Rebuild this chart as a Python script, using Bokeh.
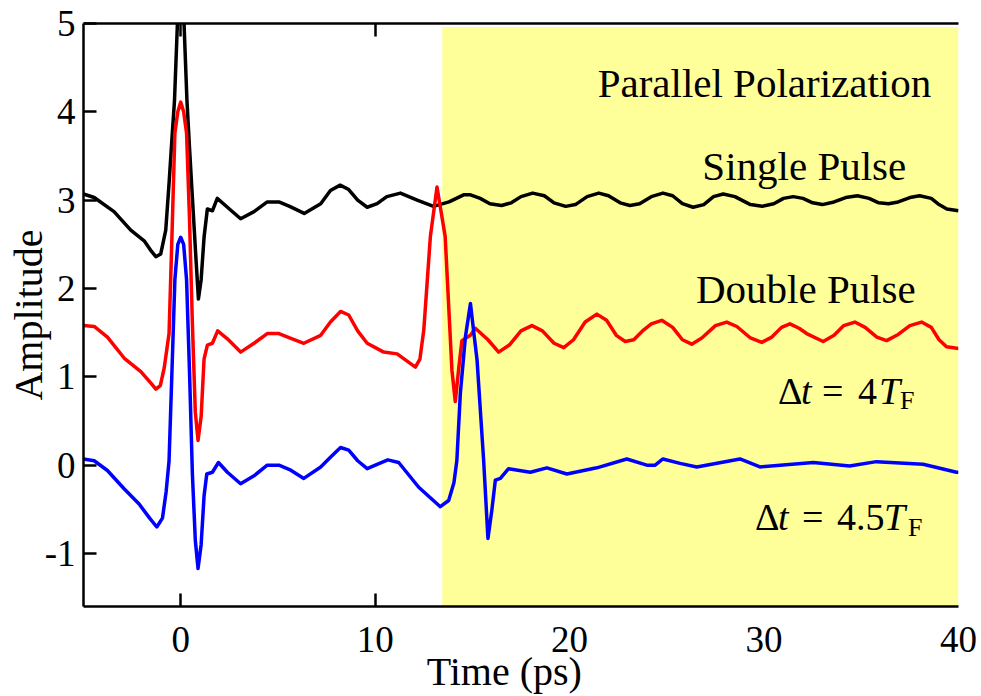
from bokeh.plotting import figure
from bokeh.models import LinearAxis, FixedTicker, Label, Range1d
from bokeh.core.properties import value
from bokeh.embed import file_html
from bokeh.resources import INLINE

# ---------------- data ----------------
x_ticks = [0, 10, 20, 30, 40]
x_inner_ticks = [0, 10]          # inward tick marks visible outside the shaded window
y_ticks = [-1, 0, 1, 2, 3, 4, 5]

# Single pulse (black, offset +3)
t_single = [-5, -4.45, -3.43, -2.57, -1.88, -1.5, -1.28, -1.03, -0.77, -0.6, -0.45, -0.32, -0.17, 0,
            0.17, 0.32, 0.45, 0.6, 0.77, 0.91, 1.05, 1.2, 1.37, 1.63, 1.88, 2.4, 3.08, 3.77, 4.45,
            5.05, 5.6, 6.35, 7.2, 7.7, 8.2, 8.64, 9.1, 9.59, 10.1, 10.6, 11.3, 12.16, 13.0, 13.8,
            14.55, 14.9, 15.4, 15.9, 16.5, 17.0, 17.5, 18.1, 18.7, 19.2, 19.8, 20.3, 20.9, 21.5,
            22.0, 22.6, 23.1, 23.6, 24.2, 24.8, 25.3, 25.8, 26.35, 26.9, 27.4, 27.9, 28.5, 29.3,
            29.9, 30.5, 31.0, 31.5, 32.0, 32.5, 33.0, 33.6, 34.2, 34.8, 35.4, 35.9, 36.4, 36.9,
            37.5, 38.0, 38.6, 39.0, 39.4, 40]
a_single = [3.07, 3.03, 2.87, 2.66, 2.54, 2.42, 2.36, 2.39, 2.66, 3.19, 3.7, 4.13, 5.0, 5.6,
            5.0, 4.13, 3.6, 3.03, 2.39, 1.88, 2.1, 2.58, 2.9, 2.88, 3.02, 2.92, 2.79, 2.87, 2.98,
            2.98, 2.93, 2.85, 2.96, 3.11, 3.17, 3.12, 3.0, 2.92, 2.96, 3.04, 3.08, 3.0, 2.93, 2.98,
            3.06, 3.06, 3.02, 2.96, 2.94, 2.97, 3.04, 3.08, 3.05, 2.97, 2.93, 2.95, 3.04, 3.08,
            3.05, 2.97, 2.94, 2.96, 3.04, 3.08, 3.05, 2.96, 2.92, 2.95, 3.04, 3.07, 3.04, 2.95,
            2.93, 2.96, 3.02, 3.04, 3.02, 2.97, 2.95, 2.98, 3.03, 3.05, 3.02, 2.97, 2.96, 2.98,
            3.03, 3.05, 3.02, 2.95, 2.90, 2.88]

# Double pulse, dt = 4 T_F (red, offset +1.5)
t_dp4 = [-5, -4.45, -3.77, -2.9, -2.05, -1.5, -1.28, -1.05, -0.85, -0.6, -0.45, -0.3, -0.15, 0,
         0.15, 0.3, 0.45, 0.6, 0.75, 0.89, 1.05, 1.2, 1.37, 1.63, 1.9, 2.4, 3.08, 3.77, 4.45,
         5.05, 5.6, 6.33, 7.2, 7.7, 8.22, 8.64, 9.1, 9.59, 10.44, 11.13, 11.5, 12.07, 12.3, 12.5,
         12.84, 13.18, 13.6, 13.95, 14.12, 14.3, 14.46, 14.9, 15.15, 15.8, 16.35, 16.9, 17.5,
         18.06, 18.6, 19.2, 19.7, 20.2, 20.8, 21.4, 21.9, 22.4, 22.86, 23.3, 23.8, 24.2, 24.74,
         25.3, 25.8, 26.28, 26.8, 27.5, 28.08, 28.6, 29.3, 29.88, 30.4, 30.9, 31.33, 31.8, 32.19,
         33.04, 33.6, 34.1, 34.67, 35.2, 35.8, 36.3, 36.9, 37.5, 38.1, 38.6, 39.0, 39.38, 40]
a_dp4 = [1.58, 1.57, 1.45, 1.21, 1.06, 0.92, 0.86, 0.9, 1.1, 1.49, 2.6, 3.76, 4.0, 4.11,
         4.0, 3.76, 2.8, 1.6, 0.6, 0.28, 0.55, 1.2, 1.36, 1.38, 1.52, 1.43, 1.28, 1.38, 1.49,
         1.49, 1.44, 1.38, 1.47, 1.62, 1.74, 1.70, 1.52, 1.38, 1.28, 1.26, 1.2, 1.11, 1.2, 1.53,
         2.59, 3.15, 2.59, 1.07, 0.72, 1.1, 1.41, 1.47, 1.55, 1.42, 1.28, 1.36, 1.52,
         1.58, 1.52, 1.38, 1.33, 1.42, 1.62, 1.71, 1.64, 1.47, 1.40, 1.42, 1.53, 1.60, 1.64,
         1.56, 1.42, 1.37, 1.44, 1.58, 1.62, 1.57, 1.44, 1.39, 1.45, 1.56, 1.60, 1.55, 1.49,
         1.40, 1.47, 1.58, 1.62, 1.56, 1.45, 1.41, 1.48, 1.58, 1.62, 1.56, 1.42, 1.34, 1.32]

# Double pulse, dt = 4.5 T_F (blue, offset 0)
t_dp45 = [-5, -4.45, -3.77, -2.9, -2.14, -1.6, -1.23, -0.94, -0.75, -0.6, -0.46, -0.3, -0.15, 0,
          0.15, 0.3, 0.46, 0.6, 0.75, 0.89, 1.05, 1.2, 1.34, 1.63, 1.94, 2.4, 3.08, 3.77, 4.45,
          5.05, 5.6, 6.33, 7.2, 7.7, 8.22, 8.64, 9.1, 9.59, 10.1, 10.65, 11.21, 12.24, 13.35, 13.78,
          14.05, 14.2, 14.38, 14.64, 14.9, 15.1, 15.24, 15.58, 15.8, 16.0, 16.18, 16.44, 16.86,
          17.98, 18.83, 19.86, 21.4, 22.94, 23.97, 24.4, 24.8, 25.68, 26.54, 28.76, 29.79, 32.53,
          34.4, 35.78, 38.18, 39.9, 40]
a_dp45 = [0.07, 0.05, -0.06, -0.27, -0.44, -0.6, -0.70, -0.60, -0.3, 0.05, 1.0, 2.1, 2.5, 2.58,
          2.5, 2.1, 1.0, -0.1, -0.85, -1.17, -0.9, -0.35, -0.10, -0.08, 0.03, -0.08, -0.21, -0.12, 0.0,
          0.0, -0.05, -0.15, -0.02, 0.09, 0.20, 0.17, 0.05, -0.04, 0.01, 0.06, 0.03, -0.25, -0.47,
          -0.40, -0.2, 0.05, 0.81, 1.45, 1.83, 1.45, 1.19, 0.05, -0.83, -0.51, -0.17, -0.15, -0.04,
          -0.08, -0.03, -0.10, -0.03, 0.07, 0.0, 0.0, 0.07, 0.02, -0.02, 0.07, -0.02, 0.03,
          -0.01, 0.04, 0.01, -0.08, -0.08]

shade_start, shade_end = 13.45, 40      # shaded (yellow) time window, ps
shade_bottom, shade_top = -1.6, 4.96

# ---------------- figure ----------------
SERIF = "Liberation Serif"

p = figure(width=981, height=696, x_range=Range1d(-5, 40), y_range=Range1d(-1.6, 5),
           output_backend="svg", toolbar_location=None,
           min_border_left=83, min_border_right=23, min_border_top=23, min_border_bottom=90)
p.outline_line_color = None
p.xgrid.visible = False
p.ygrid.visible = False
p.background_fill_color = "white"
p.border_fill_color = "white"

bottom_axis = p.below[0]
left_axis = p.left[0]
top_axis = LinearAxis()
p.add_layout(top_axis, "above")

for ax in [bottom_axis, left_axis, top_axis]:
    ax.axis_line_width = 2.5
    ax.axis_line_color = "black"
    ax.major_tick_line_width = 2.5
    ax.major_tick_line_color = "black"
    ax.major_tick_in = 13
    ax.major_tick_out = 0
    ax.minor_tick_line_color = None
    ax.major_label_text_font = SERIF
    ax.major_label_text_font_size = "37px"
    ax.major_label_text_color = "black"
    ax.axis_label_text_font = SERIF
    ax.axis_label_text_font_size = "40px"
    ax.axis_label_text_font_style = "normal"
    ax.axis_label_text_color = "black"

# bottom axis: labels at every major tick, inward tick marks only where not shaded
bottom_axis.ticker = FixedTicker(ticks=x_ticks, minor_ticks=x_inner_ticks)
bottom_axis.major_tick_line_color = None
bottom_axis.minor_tick_line_color = "black"
bottom_axis.minor_tick_line_width = 2.5
bottom_axis.minor_tick_in = 13
bottom_axis.minor_tick_out = 0
bottom_axis.major_label_standoff = 20

# top frame line: no labels, inward tick marks only
top_axis.ticker = FixedTicker(ticks=[], minor_ticks=x_inner_ticks)
top_axis.minor_tick_line_color = "black"
top_axis.minor_tick_line_width = 2.5
top_axis.minor_tick_in = 13
top_axis.minor_tick_out = 0

left_axis.ticker = FixedTicker(ticks=y_ticks)
left_axis.major_label_overrides = {-1: "-1"}
left_axis.axis_label = "Amplitude"
left_axis.major_label_standoff = 8
left_axis.axis_label_standoff = -9

# shaded window, drawn under the curves
p.quad(left=[shade_start], right=[shade_end], bottom=[shade_bottom], top=[shade_top],
       fill_color="#ffff99", line_color=None)

p.line(t_single, a_single, line_color="black", line_width=3.5, line_join="round")
p.line(t_dp4, a_dp4, line_color="#ff0000", line_width=3.5, line_join="round")
p.line(t_dp45, a_dp45, line_color="#0000ff", line_width=3.5, line_join="round")

# x-axis title, drawn as unclipped text so that it may sit close to the bottom edge, as in the original
x_title_pos = 16.64
p.text(x=[x_title_pos], y=[-1.6], text=["Time (ps)"], text_align="center",
       text_baseline="alphabetic", y_offset=65, level="overlay",
       text_font=value(SERIF), text_font_size=value("40px"), text_color="black")


def lab(x, y, text, size="41px", style="normal", align="center", xo=0, yo=0):
    p.add_layout(Label(x=x, y=y, text=text, text_align=align, text_baseline="alphabetic",
                       text_font=SERIF, text_font_size=size, text_font_style=style,
                       text_color="black", x_offset=xo, y_offset=yo))


lab(30.02, 4.33, "Parallel Polarization")
lab(32.07, 3.39, "Single Pulse")
lab(32.15, 2.0, "Double Pulse")

# Delta t = 4 T_F
fx, fy = 30.72, 0.838
lab(fx, fy, "\u0394", size="38px", align="left")
lab(fx, fy, "t", size="38px", style="italic", align="left", xo=23)
lab(fx, fy, "=", size="38px", align="left", xo=44)
lab(fx, fy, "4", size="38px", align="left", xo=80)
lab(fx, fy, "T", size="38px", style="italic", align="left", xo=101)
lab(fx, fy, "F", size="26px", align="left", xo=122, yo=-9)

# Delta t = 4.5 T_F
gx, gy = 29.53, -0.589
lab(gx, gy, "\u0394", size="38px", align="left")
lab(gx, gy, "t", size="38px", style="italic", align="left", xo=23)
lab(gx, gy, "=", size="38px", align="left", xo=47)
lab(gx, gy, "4.5", size="38px", align="left", xo=82)
lab(gx, gy, "T", size="38px", style="italic", align="left", xo=129)
lab(gx, gy, "F", size="26px", align="left", xo=153, yo=-10)

open("out.html", "w").write(file_html(p, INLINE))
